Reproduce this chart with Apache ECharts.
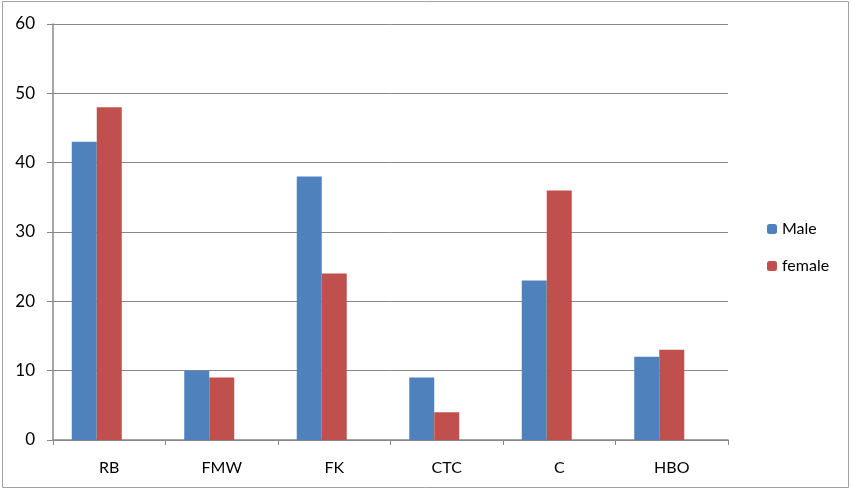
<!DOCTYPE html>
<html><head><meta charset="utf-8">
<script src="https://cdn.jsdelivr.net/npm/echarts@6/dist/echarts.min.js"></script>
<style>html,body{margin:0;padding:0;background:#fff}#c{width:852px;height:490px}</style>
</head><body><div id="c"></div>
<script>
const categories = ['RB', 'FMW', 'FK', 'CTC', 'C', 'HBO'];
const maleValues = [43, 10, 38, 9, 23, 12];
const femaleValues = [48, 9, 24, 4, 36, 13];
const emptyValues = [null, null, null, null, null, null];
const seriesNames = ['Male', 'female'];

const chart = echarts.init(document.getElementById('c'), null, {renderer: 'canvas'});
const font = 'Lato, "Open Sans", sans-serif';
chart.setOption({
  animation: false,
  graphic: [{type: 'rect', shape: {x: 2.5, y: 1.5, width: 846, height: 486}, style: {fill: 'none', stroke: '#a0a0a0', lineWidth: 1}, silent: true}],
  grid: {left: 53, right: 124, top: 24, bottom: 50, containLabel: false},
  legend: {
    orient: 'vertical', left: 762, top: 216, itemWidth: 10, itemHeight: 10, itemGap: 21,
    textStyle: {fontFamily: font, fontSize: 16, color: '#000'},
    data: seriesNames
  },
  xAxis: {
    type: 'category', data: categories,
    axisLine: {lineStyle: {color: '#888', width: 1.5}},
    axisTick: {show: true, length: 5, lineStyle: {color: '#888'}},
    axisLabel: {fontFamily: font, fontSize: 16, color: '#000', margin: 20}
  },
  yAxis: {
    type: 'value', min: 0, max: 60, interval: 10,
    axisLine: {show: true, lineStyle: {color: '#888', width: 1.5}},
    axisTick: {show: true, inside: false, length: 6, lineStyle: {color: '#888'}},
    axisLabel: {fontFamily: font, fontSize: 17, color: '#000', margin: 18},
    splitLine: {lineStyle: {color: '#888', width: 1}}
  },
  series: [
    {name: seriesNames[0], type: 'bar', data: maleValues, barWidth: 25, barGap: '0%', itemStyle: {color: '#4F81BD'}},
    {name: seriesNames[1], type: 'bar', data: femaleValues, barWidth: 25, barGap: '0%', itemStyle: {color: '#C0504D'}},
    {name: 'spacer', type: 'bar', data: emptyValues, barWidth: 25, barGap: '0%', silent: true, itemStyle: {color: 'transparent'}}
  ]
});
</script></body></html>
